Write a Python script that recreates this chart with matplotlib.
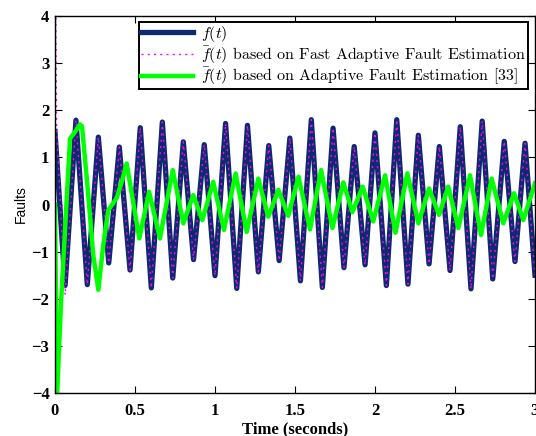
import matplotlib
matplotlib.use('agg')
import matplotlib.pyplot as plt

plt.rcParams['mathtext.fontset'] = 'cm'
plt.rcParams['axes.unicode_minus'] = True

# f(t): extrema
t_f = [0.0, 0.063, 0.131, 0.202, 0.271, 0.336, 0.402, 0.469, 0.533, 0.602,
       0.671, 0.736, 0.802, 0.866, 0.933, 1.0, 1.066, 1.136, 1.203, 1.271,
       1.336, 1.401, 1.468, 1.534, 1.602, 1.671, 1.738, 1.806, 1.87, 1.938,
       2.0, 2.071, 2.136, 2.206, 2.271, 2.338, 2.402, 2.469, 2.533, 2.6,
       2.67, 2.736, 2.808, 2.875, 2.938, 3.0]
v_f = [1.55, -1.72, 1.79, -1.70, 1.43, -1.24, 1.22, -1.39, 1.63, -1.77,
       1.75, -1.56, 1.33, -1.17, 1.27, -1.51, 1.72, -1.78, 1.68, -1.43,
       1.25, -1.19, 1.41, -1.62, 1.80, -1.76, 1.62, -1.34, 1.23, -1.28,
       1.52, -1.72, 1.80, -1.69, 1.47, -1.26, 1.23, -1.40, 1.65, -1.79,
       1.77, -1.58, 1.34, -1.21, 1.30, -1.50]

# fast adaptive estimate: initial transient, then on top of f(t)
t_fast0 = [0.0, 0.004, 0.01, 0.063]
v_fast0 = [0.0, 4.6, 1.6, -1.92]

# adaptive estimate [33]
t_ad = [0.0, 0.0125, 0.0375, 0.094, 0.125, 0.156, 0.169, 0.208, 0.239, 0.271,
        0.302, 0.333, 0.364, 0.386, 0.417, 0.448, 0.527, 0.588, 0.656, 0.736,
        0.802, 0.864, 0.921, 0.989, 1.056, 1.129, 1.198, 1.271, 1.333, 1.396,
        1.458, 1.522, 1.594, 1.663, 1.734, 1.802, 1.859, 1.923, 1.989, 2.063,
        2.128, 2.202, 2.271, 2.338, 2.4, 2.458, 2.521, 2.594, 2.663, 2.729,
        2.802, 2.869, 2.927, 3.0]
v_ad = [0.0, -4.1, -2.1, 1.4, 1.54, 1.70, 1.66, 0.2, -1.07, -1.81,
        -0.85, -0.12, 0.03, 0.14, 0.48, 0.87, -0.72, 0.27, -0.72, 0.73,
        -0.40, 0.20, -0.33, 0.48, -0.54, 0.66, -0.58, 0.55, -0.26, 0.31,
        -0.24, 0.59, -0.53, 0.73, -0.50, 0.47, -0.16, 0.38, -0.36, 0.62,
        -0.60, 0.66, -0.40, 0.34, -0.22, 0.38, -0.50, 0.62, -0.65, 0.55,
        -0.40, 0.24, -0.33, 0.45]

labels = [r'$f(t)$',
          r'$\bar{f}(t)$ based on Fast Adaptive Fault Estimation',
          r'$\bar{f}(t)$ based on Adaptive Fault Estimation [33]']

t_fast = t_fast0 + t_f[2:]
v_fast = v_fast0 + v_f[2:]

fig = plt.figure(figsize=(5.36, 4.36), dpi=100)
ax = fig.add_axes([0.1026, 0.0986, 0.8955, 0.8647])

ax.plot(t_f, v_f, color='#0d2a6e', lw=3.8, solid_joinstyle='round', label=labels[0])
ax.plot(t_fast, v_fast, color='#ff00ff', lw=1.0, linestyle=(0, (1.5, 3)), label=labels[1])
ax.plot(t_ad, v_ad, color='#00ff00', lw=3.2, solid_joinstyle='round', label=labels[2])

ax.set_xlim(0, 3)
ax.set_ylim(-4, 4)
ax.set_xticks([0, 0.5, 1, 1.5, 2, 2.5, 3])
ax.set_xticklabels(['0', '0.5', '1', '1.5', '2', '2.5', '3'])
ax.set_yticks([-4, -3, -2, -1, 0, 1, 2, 3, 4])
ax.tick_params(direction='in', top=True, right=True, length=5, width=0.8)
ax.tick_params(axis='x', pad=7)
ax.tick_params(axis='y', pad=4)
for lab in ax.get_xticklabels() + ax.get_yticklabels():
    lab.set_family('Liberation Serif')
    lab.set_fontweight('bold')
    lab.set_fontsize(12)
for s in ax.spines.values():
    s.set_linewidth(1.0)

ax.set_xlabel('Time (seconds)', family='Liberation Serif', fontweight='bold', fontsize=12, labelpad=2)
ax.set_ylabel('Faults', family='Liberation Sans', fontsize=10, labelpad=3)

leg = ax.legend(loc='upper right', bbox_to_anchor=(0.985, 0.983), prop={'family': 'cmr10', 'size': 11.5},
                handlelength=3.3, fancybox=False, framealpha=1, edgecolor='black',
                borderpad=0.1, labelspacing=0.0, handletextpad=0.5, borderaxespad=0)
leg.get_frame().set_linewidth(1.4)

fig.savefig('out.png', dpi=100)
